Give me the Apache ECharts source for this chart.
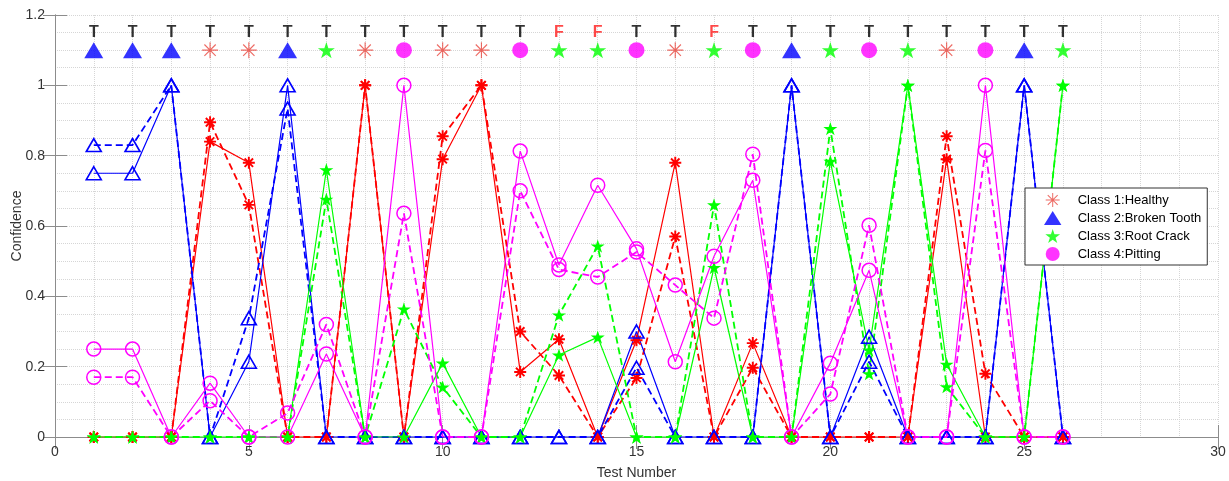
<!DOCTYPE html>
<html><head><meta charset="utf-8">
<script src="https://cdn.jsdelivr.net/npm/echarts@6/dist/echarts.min.js"></script>
<style>html,body{margin:0;padding:0;background:#fff}#c{width:1229px;height:481px}</style>
</head><body><div id="c"></div>
<script>
// ---------- data ----------
const testNumbers = [1,2,3,4,5,6,7,8,9,10,11,12,13,14,15,16,17,18,19,20,21,22,23,24,25,26];
const classNames = ['Class 1:Healthy','Class 2:Broken Tooth','Class 3:Root Crack','Class 4:Pitting'];
const healthySolid   = [0,0,0,0.84,0.78,0,0,1.0,0,0.79,1.0,0.185,0.278,0,0.275,0.78,0,0.267,0,0,0,0,0.79,0,0,0];
const healthyDashed  = [0,0,0,0.895,0.66,0,0,1.0,0,0.855,1.0,0.30,0.175,0,0.168,0.57,0,0.197,0,0,0,0,0.855,0.18,0,0];
const brokenSolid    = [0.75,0.75,1.0,0,0.214,1.0,0,0,0,0,0,0,0,0,0.30,0,0,0,1.0,0,0.285,0,0,0,1.0,0];
const brokenDashed   = [0.83,0.83,1.0,0,0.338,0.934,0,0,0,0,0,0,0,0,0.197,0,0,0,1.0,0,0.214,0,0,0,1.0,0];
const crackSolid     = [0,0,0,0,0,0,0.76,0,0,0.21,0,0,0.233,0.284,0,0,0.482,0,0,0.784,0.247,1.0,0.207,0,0,1.0];
const crackDashed    = [0,0,0,0,0,0,0.676,0,0.364,0.142,0,0,0.347,0.543,0,0,0.66,0,0,0.877,0.18,1.0,0.143,0,0,1.0];
const pittingSolid   = [0.25,0.25,0,0.153,0,0,0.236,0,1.0,0,0,0.813,0.489,0.716,0.535,0.214,0.514,0.73,0,0.21,0.474,0,0,1.0,0,0];
const pittingDashed  = [0.17,0.17,0,0.103,0,0.068,0.32,0,0.636,0,0,0.70,0.476,0.455,0.526,0.432,0.338,0.804,0,0.122,0.602,0,0,0.815,0,0];
const predictedClass = [2,2,2,1,1,2,3,1,4,1,1,4,3,3,4,1,3,4,2,3,4,3,1,4,2,3];
const verdict        = ['T','T','T','T','T','T','T','T','T','T','T','T','F','F','T','T','F','T','T','T','T','T','T','T','T','T'];
const xTickValues = [0,5,10,15,20,25,30];
const yTickValues = [0,0.2,0.4,0.6,0.8,1,1.2];
const markerRowY = 1.1, verdictRowY = 1.15;

// ---------- symbols ----------
function asterisk(w){
  let p='';
  for (const a of [0,45,90,135]) {
    const r=a*Math.PI/180, c=Math.cos(r), s=Math.sin(r);
    const pts=[[-1,-w],[1,-w],[1,w],[-1,w]].map(([x,y])=>[x*c-y*s, x*s+y*c]);
    p += 'M'+pts.map(q=>q[0].toFixed(3)+' '+q[1].toFixed(3)).join('L')+'Z';
  }
  return 'path://'+p;
}
function star(){
  const pts=[];
  for (let k=0;k<10;k++){
    const r = k%2===0 ? 1 : 0.382;
    const a = (-90 + k*36)*Math.PI/180;
    pts.push([r*Math.cos(a), r*Math.sin(a)]);
  }
  return 'path://M'+pts.map(q=>q[0].toFixed(3)+' '+q[1].toFixed(3)).join('L')+'Z';
}
const SYM_AST_THIN = asterisk(0.07);
const SYM_AST_BOLD = asterisk(0.16);
const SYM_STAR = star();
const SYM_TRI = 'path://M0 -1L1.15 0.85L-1.15 0.85Z';
const SYM_CIRC = 'path://M1 0A1 1 0 1 1 -1 0A1 1 0 1 1 1 0Z';

const RED='#ff0000', BLUE='#0000ff', GREEN='#00ff00', MAG='#ff00ff';
const FONT = 'Liberation Sans, Arial, Helvetica, sans-serif';

function lineSeries(name, values, color, dashed, kind){
  const s = {
    name, type:'line', data: testNumbers.map((x,i)=>[x, values[i]]),
    showSymbol:true, animation:false, silent:true,
    lineStyle:{color, width: dashed?1.8:1.2, type: dashed?[7,4]:'solid'},
    emphasis:{disabled:true},
    symbolKeepAspect:true
  };
  if (kind==='ast'){ s.symbol=SYM_AST_BOLD; s.symbolSize=12; s.itemStyle={color, borderWidth:0}; }
  if (kind==='tri'){ s.symbol='triangle'; s.symbolSize=[15,13]; s.itemStyle={color:'rgba(0,0,0,0)', borderColor:color, borderWidth:1.6}; }
  if (kind==='star'){ s.symbol=SYM_STAR; s.symbolSize=14; s.itemStyle={color, borderWidth:0}; }
  if (kind==='circ'){ s.symbol='circle'; s.symbolSize=14; s.itemStyle={color:'rgba(0,0,0,0)', borderColor:color, borderWidth:1.5}; }
  return s;
}

const topSym = [
  {symbol:SYM_AST_THIN, size:16, color:'#e8453c'},
  {symbol:'triangle', size:[19,16], color:BLUE},
  {symbol:SYM_STAR, size:17, color:GREEN},
  {symbol:'circle', size:16, color:MAG}
];
const legendIcons = [SYM_AST_THIN, SYM_TRI, SYM_STAR, SYM_CIRC];
const topSeries = classNames.map((nm,k)=>({
  name:nm, type:'scatter', animation:false, silent:true,
  symbol: topSym[k].symbol, symbolSize: topSym[k].size, symbolKeepAspect:true,
  itemStyle:{color: topSym[k].color},
  data: testNumbers.filter((x,i)=>predictedClass[i]===k+1).map(x=>[x, markerRowY]),
  z:5
}));

const verdictSeries = {
  name:'verdict', type:'scatter', animation:false, silent:true,
  symbolSize:0.01,
  data: testNumbers.map((x,i)=>({value:[x, verdictRowY],
    label:{color: verdict[i]==='F' ? '#ff1a1a' : '#000'}})),
  label:{show:true, position:'inside', formatter:p=>verdict[p.dataIndex],
    fontFamily:FONT, fontWeight:'bold', fontSize:16},
  z:6
};

const axisLineStyle = {color:'#8c8c8c', width:1};
const gridLine = {color:'#d6d6d6', type:'dotted', width:1};

const option = {
  backgroundColor:'#fff',
  animation:false,
  grid:{left:55, right:11, top:15, bottom:44, outerBoundsMode:'none', containLabel:false, show:false},
  xAxis:[
    {type:'value', min:0, max:30, interval:5, position:'bottom',
     name:'Test Number', nameLocation:'middle', nameGap:29, nameMoveOverlap:false,
     nameTextStyle:{fontFamily:FONT, fontSize:14, color:'#333'},
     axisLine:{show:true, lineStyle:axisLineStyle},
     axisTick:{show:true, inside:true, length:12, lineStyle:axisLineStyle},
     axisLabel:{show:true, fontFamily:FONT, fontSize:14, color:'#333', margin:8,
       formatter:v=> xTickValues.includes(v) ? String(v) : ''},
     splitLine:{show:true, lineStyle:gridLine},
     minorTick:{show:false, splitNumber:5},
     minorSplitLine:{show:true, lineStyle:gridLine}},
    {type:'value', min:0, max:30, interval:5, position:'top',
     axisLine:{show:true, lineStyle:axisLineStyle},
     axisTick:{show:true, inside:true, length:12, lineStyle:axisLineStyle},
     axisLabel:{show:false}, splitLine:{show:false}}
  ],
  yAxis:[
    {type:'value', min:0, max:1.2, interval:0.2, position:'left',
     name:'Confidence', nameLocation:'middle', nameGap:31, nameRotate:90, nameMoveOverlap:false,
     nameTextStyle:{fontFamily:FONT, fontSize:14, color:'#333'},
     axisLine:{show:true, lineStyle:axisLineStyle},
     axisTick:{show:true, inside:true, length:12, lineStyle:axisLineStyle},
     axisLabel:{show:true, fontFamily:FONT, fontSize:14, color:'#333', margin:10,
       formatter:v=>{ const t=yTickValues.find(q=>Math.abs(q-v)<1e-6); return t===undefined?'':String(t); }},
     splitLine:{show:true, lineStyle:gridLine},
     minorTick:{show:false, splitNumber:4},
     minorSplitLine:{show:true, lineStyle:gridLine}},
    {type:'value', min:0, max:1.2, interval:0.2, position:'right',
     axisLine:{show:true, lineStyle:axisLineStyle},
     axisTick:{show:true, inside:true, length:12, lineStyle:axisLineStyle},
     axisLabel:{show:false}, splitLine:{show:false}}
  ],
  legend:{
    show:true, orient:'vertical', left:1025, top:188,
    backgroundColor:'#fff', borderColor:'#333', borderWidth:1, borderRadius:0,
    padding:[5,6,4,19], itemGap:4, itemWidth:40, itemHeight:14,
    symbolKeepAspect:true, selectedMode:false,
    textStyle:{fontFamily:FONT, fontSize:13, color:'#000'},
    data: classNames.map((n,k)=>({name:n, icon:legendIcons[k]}))
  },
  series:[
    lineSeries('c1s', healthySolid, RED, false, 'ast'),
    lineSeries('c1d', healthyDashed, RED, true, 'ast'),
    lineSeries('c2s', brokenSolid, BLUE, false, 'tri'),
    lineSeries('c2d', brokenDashed, BLUE, true, 'tri'),
    lineSeries('c3s', crackSolid, GREEN, false, 'star'),
    lineSeries('c3d', crackDashed, GREEN, true, 'star'),
    lineSeries('c4s', pittingSolid, MAG, false, 'circ'),
    lineSeries('c4d', pittingDashed, MAG, true, 'circ'),
    ...topSeries,
    verdictSeries
  ]
};
const chart = echarts.init(document.getElementById('c'), null, {renderer:'canvas'});
chart.setOption(option);
</script></body></html>
